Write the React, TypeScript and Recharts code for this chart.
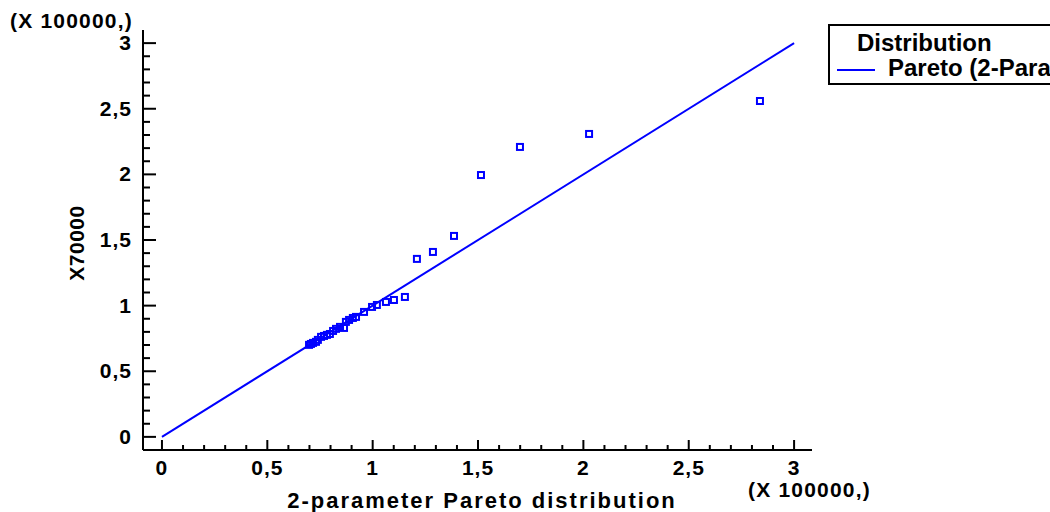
import { Legend, Scatter, ScatterChart, XAxis, YAxis } from "recharts";

// theoretical quantiles (X 100000) and observed values (X 100000)
const paretoQuantiles = [
  0.698, 0.707, 0.717, 0.731, 0.74, 0.755, 0.769, 0.783, 0.797, 0.812,
  0.826, 0.845, 0.864, 0.873, 0.888, 0.906, 0.921, 0.959, 0.997, 1.02,
  1.063, 1.101, 1.153, 1.21, 1.286, 1.386, 1.514, 1.699, 2.027, 2.838,
];
const observed = [
  0.701, 0.708, 0.716, 0.724, 0.739, 0.762, 0.769, 0.777, 0.784, 0.807,
  0.823, 0.838, 0.83, 0.876, 0.891, 0.906, 0.914, 0.952, 0.99, 1.005,
  1.028, 1.043, 1.066, 1.356, 1.409, 1.531, 1.995, 2.209, 2.308, 2.559,
];
const fitX = [0, 3];
const fitY = [0, 3];

const axisTicks = [
  0, 0.1, 0.2, 0.3, 0.4, 0.5, 0.6, 0.7, 0.8, 0.9, 1, 1.1, 1.2, 1.3, 1.4,
  1.5, 1.6, 1.7, 1.8, 1.9, 2, 2.1, 2.2, 2.3, 2.4, 2.5, 2.6, 2.7, 2.8, 2.9, 3,
];

const points = paretoQuantiles.map((x, i) => ({ x, y: observed[i] }));
const fitLine = fitX.map((x, i) => ({ x, y: fitY[i] }));

const BLUE = "#0000ff";
const FONT = "'Liberation Sans', Arial, sans-serif";

const isMajor = (v: number) => Math.abs(v * 2 - Math.round(v * 2)) < 1e-6;
const fmt = (v: number) => String(v).replace(".", ",");

const XTick = (props: any) => {
  const { x, y, payload } = props;
  const v = payload.value as number;
  const major = isMajor(v);
  return (
    <g>
      <line x1={x} y1={y} x2={x} y2={y - (major ? 10 : 5)} stroke="#000" strokeWidth={2} />
      {major && (
        <text x={x} y={y + 25} textAnchor="middle" fontFamily={FONT} fontWeight="bold" fontSize={21} letterSpacing={1} fill="#000">
          {fmt(v)}
        </text>
      )}
    </g>
  );
};

const YTick = (props: any) => {
  const { x, y, payload } = props;
  const v = payload.value as number;
  const major = isMajor(v);
  return (
    <g>
      <line x1={x} y1={y} x2={x + (major ? 13 : 7)} y2={y} stroke="#000" strokeWidth={2} />
      {major && (
        <text x={x - 11} y={y + 7} textAnchor="end" fontFamily={FONT} fontWeight="bold" fontSize={21} letterSpacing={1} fill="#000">
          {fmt(v)}
        </text>
      )}
    </g>
  );
};

const Square = (props: any) => {
  const { cx, cy } = props;
  return <rect x={cx - 3} y={cy - 3} width={6} height={6} fill="none" stroke={BLUE} strokeWidth={2} />;
};

const LegendBox = () => (
  <div
    style={{
      position: "absolute",
      left: 828,
      top: 24,
      width: 280,
      height: 61,
      border: "2px solid #000",
      boxSizing: "border-box",
      fontFamily: FONT,
      fontWeight: "bold",
      fontSize: 24,
      lineHeight: "26px",
      color: "#000",
      background: "#fff",
    }}
  >
    <div style={{ position: "absolute", left: 27, top: 4, whiteSpace: "nowrap" }}>Distribution</div>
    <div style={{ position: "absolute", left: 7, top: 43, width: 38, height: 2, background: BLUE }} />
    <div style={{ position: "absolute", left: 58, top: 29, whiteSpace: "nowrap" }}>Pareto (2-Parameter)</div>
  </div>
);

export default function App() {
  return (
    <div style={{ position: "absolute", left: 0, top: 0, width: 1050, height: 512, overflow: "hidden", background: "#fff" }}>
      <ScatterChart width={1050} height={512} margin={{ top: 30, right: 238, bottom: 32, left: 83 }}>
        <XAxis
          type="number"
          dataKey="x"
          domain={[-0.09, 3.085]}
          allowDataOverflow
          ticks={axisTicks}
          interval={0}
          tick={<XTick />}
          tickLine={false}
          tickSize={0}
          tickMargin={0}
          height={30}
          axisLine={{ stroke: "#000", strokeWidth: 2 }}
        />
        <YAxis
          type="number"
          dataKey="y"
          domain={[-0.1, 3.1]}
          allowDataOverflow
          ticks={axisTicks}
          interval={0}
          tick={<YTick />}
          tickLine={false}
          tickSize={0}
          tickMargin={0}
          width={60}
          axisLine={{ stroke: "#000", strokeWidth: 2 }}
        />
        <Legend content={() => null} />
        <Scatter
          data={fitLine}
          line={{ stroke: BLUE, strokeWidth: 2 }}
          shape={() => <g />}
          isAnimationActive={false}
        />
        <Scatter data={points} shape={<Square />} isAnimationActive={false} />
      </ScatterChart>
      <LegendBox />
      <svg width={1050} height={512} style={{ position: "absolute", left: 0, top: 0, pointerEvents: "none" }}>
        <text x={10} y={28} fontFamily={FONT} fontWeight="bold" fontSize={21} letterSpacing={1.2}>
          (X 100000,)
        </text>
        <text x={748} y={497} fontFamily={FONT} fontWeight="bold" fontSize={21} letterSpacing={1.2}>
          (X 100000,)
        </text>
        <text x={482} y={508} textAnchor="middle" fontFamily={FONT} fontWeight="bold" fontSize={22} letterSpacing={2}>
          2-parameter Pareto distribution
        </text>
        <text
          x={84}
          y={243}
          textAnchor="middle"
          transform="rotate(-90 84 243)"
          fontFamily={FONT}
          fontWeight="bold"
          fontSize={21}
          letterSpacing={0.5}
        >
          X70000
        </text>
      </svg>
    </div>
  );
}
